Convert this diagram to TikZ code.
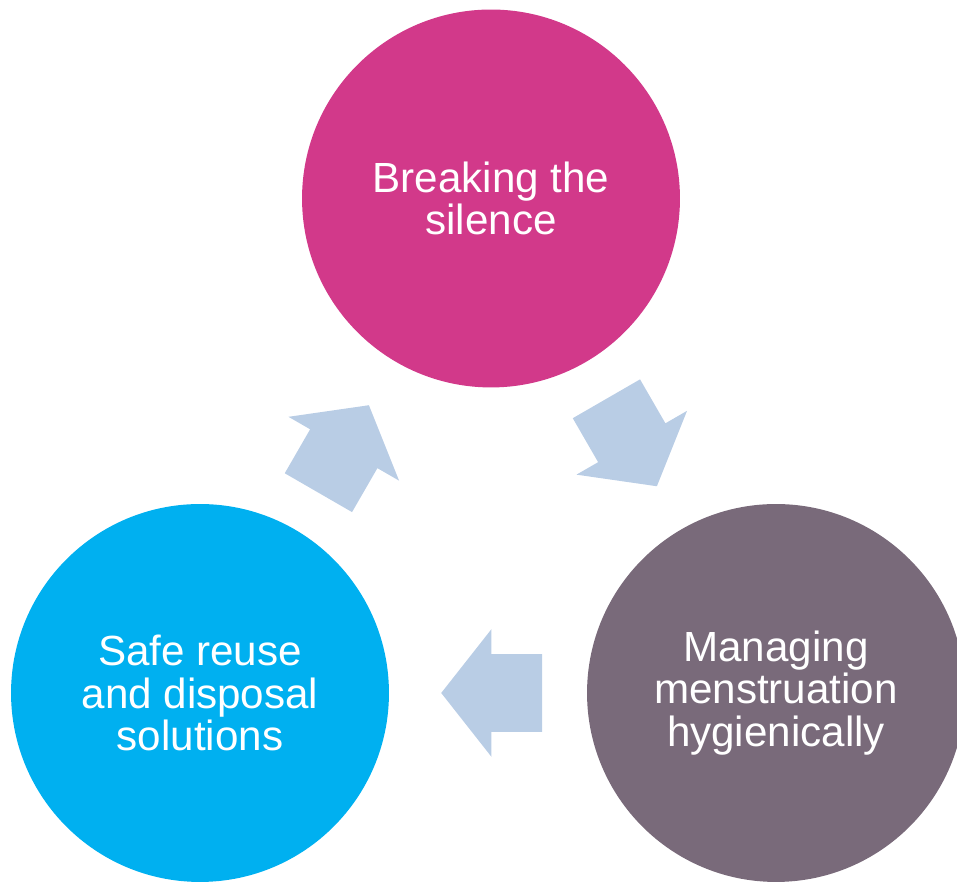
\documentclass[tikz,border=0pt]{standalone}
\usepackage{fontspec}
\setmainfont{Liberation Sans}
\usepackage{tikz}
\usetikzlibrary{shapes.arrows, calc}
\usepackage{xcolor}
\definecolor{silencepink}{RGB}{210, 57, 138}
\definecolor{hygienegrey}{RGB}{121, 106, 122}
\definecolor{reuseblue}{RGB}{0, 176, 240}
\definecolor{flowblue}{RGB}{185, 205, 229}

\begin{document}
\begin{tikzpicture}[x=0.02cm, y=0.02cm,
    stage/.style={circle, minimum size=7.56cm, inner sep=0pt, text=white, align=center,
      font=\fontsize{24}{24.3}\selectfont},
    flow/.style={single arrow, fill=flowblue, draw=none, minimum height=2.02cm,
      inner xsep=0pt, inner ysep=0.77cm, single arrow head extend=0.5cm,
      single arrow tip angle=103.6}]
    \clip (0, 0) rectangle (957, 884);
    % the three stages
    \node[stage, fill=silencepink] (silence) at (491, 685.5) {Breaking the\\silence};
    \node[stage, fill=hygienegrey] (hygiene) at (776, 191) {Managing\\menstruation\\hygienically};
    \node[stage, fill=reuseblue] (reuse) at (200, 191) {Safe reuse\\and disposal\\solutions};
    % block arrows half way between the stages (shifted back so the arrow body is centred)
    \node[flow, rotate=-60, xshift=-0.38cm] (silence-hygiene) at ($(silence)!0.5!(hygiene)$) {};
    \node[flow, rotate=180, xshift=-0.38cm] (hygiene-reuse) at ($(hygiene)!0.5!(reuse)$) {};
    \node[flow, rotate=60, xshift=-0.38cm] (reuse-silence) at ($(reuse)!0.5!(silence)$) {};
\end{tikzpicture}
\end{document}
